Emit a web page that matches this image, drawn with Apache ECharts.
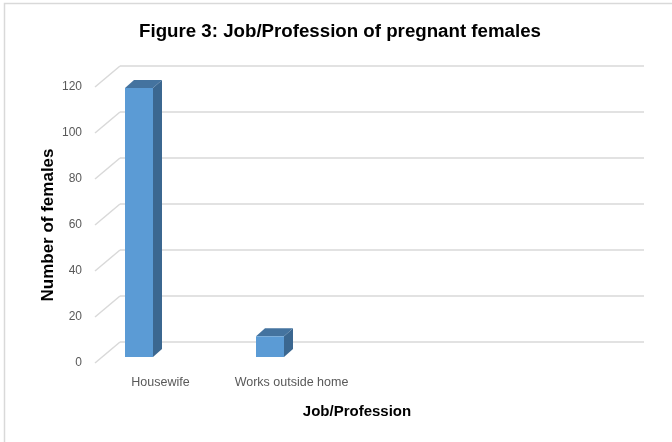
<!DOCTYPE html>
<html>
<head>
<meta charset="utf-8">
<script src="https://cdn.jsdelivr.net/npm/echarts@6/dist/echarts.min.js"></script>
<style>html,body{margin:0;padding:0;background:#fff;}#c{width:672px;height:442px;}</style>
</head>
<body>
<div id="c"></div>
<script>
const categories = ['Housewife', 'Works outside home', '', ''];
const values = [117, 9, null, null];
const tickValues = [0, 20, 40, 60, 80, 100, 120];

const DEPTH = [25, -21];   // front-to-back wall offset (px)
const BAR_DEPTH = [9, -8];  // bar 3D thickness (px)
const BAR_W = 28;

const chart = echarts.init(document.getElementById('c'));
const font = "'Liberation Sans', Arial, sans-serif";

chart.setOption({
  animation: false,
  backgroundColor: '#ffffff',
  title: {
    text: 'Figure 3: Job/Profession of pregnant females',
    left: 335, top: 17, textAlign: 'center',
    textStyle: { fontFamily: font, fontSize: 18.7, fontWeight: 'bold', color: '#000' }
  },
  graphic: [{
    type: 'rect', shape: { x: 4.5, y: 3.5, width: 700, height: 470 },
    style: { fill: 'none', stroke: '#d9d9d9', lineWidth: 1.5 }, silent: true
  }],
  grid: [
    { left: 120, right: 28, top: 66, bottom: 100 },   // back wall
    { left: 95, right: 53, top: 87, bottom: 79 },     // front plane
    { left: 73.5, right: 74.5, top: 81, bottom: 85 }  // bar plane
  ],
  xAxis: [
    { gridIndex: 0, type: 'category', data: categories, show: false },
    { gridIndex: 1, type: 'category', data: categories,
      axisLine: { show: false }, axisTick: { show: false },
      axisLabel: { margin: 13, fontFamily: font, fontSize: 12.5, color: '#595959', interval: 0 },
      name: 'Job/Profession', nameLocation: 'middle', nameGap: 41,
      nameTextStyle: { fontFamily: font, fontSize: 15, fontWeight: 'bold', color: '#000' } },
    { gridIndex: 2, type: 'category', data: categories, show: false }
  ],
  yAxis: [
    { gridIndex: 0, type: 'value', min: 0, max: 120, interval: 20,
      axisLabel: { show: false }, axisLine: { show: false }, axisTick: { show: false },
      splitLine: { lineStyle: { color: '#d9d9d9', width: 1.5 } } },
    { gridIndex: 1, type: 'value', min: 0, max: 120, interval: 20,
      axisLine: { show: false }, axisTick: { show: false }, splitLine: { show: false },
      axisLabel: { margin: 13, fontFamily: font, fontSize: 12, color: '#595959' },
      name: 'Number of females', nameLocation: 'middle', nameGap: 38, nameMoveOverlap: false,
      nameTextStyle: { fontFamily: font, fontSize: 17, fontWeight: 'bold', color: '#000' } },
    { gridIndex: 2, type: 'value', min: 0, max: 120, show: false, splitLine: { show: false } }
  ],
  series: [
    {
      type: 'custom', xAxisIndex: 0, yAxisIndex: 0, silent: true,
      data: tickValues.map(v => [0, v]),
      renderItem: function (params, api) {
        const p = api.coord([0, api.value(1)]);
        const half = api.size([1, 0])[0] / 2;
        const bx = p[0] - half, by = p[1];
        return {
          type: 'line',
          shape: { x1: bx - DEPTH[0], y1: by - DEPTH[1], x2: bx, y2: by },
          style: { stroke: '#d9d9d9', lineWidth: 1.5 }
        };
      }
    },
    {
      type: 'custom', xAxisIndex: 2, yAxisIndex: 2, silent: true,
      data: values.map((v, i) => [i, v]),
      renderItem: function (params, api) {
        const v = api.value(1);
        if (v == null || isNaN(v)) return;
        const top = api.coord([api.value(0), v]);
        const base = api.coord([api.value(0), 0]);
        const x0 = top[0] - BAR_W / 2, x1 = top[0] + BAR_W / 2;
        const y0 = top[1], y1 = base[1];
        const dx = BAR_DEPTH[0], dy = BAR_DEPTH[1];
        return {
          type: 'group',
          children: [
            { type: 'polygon', shape: { points: [[x1, y0], [x1 + dx, y0 + dy], [x1 + dx, y1 + dy], [x1, y1]] },
              style: { fill: '#3b6790' } },
            { type: 'polygon', shape: { points: [[x0, y0], [x0 + dx, y0 + dy], [x1 + dx, y0 + dy], [x1, y0]] },
              style: { fill: '#44739f' } },
            { type: 'rect', shape: { x: x0, y: y0, width: BAR_W, height: y1 - y0 },
              style: { fill: '#5b9bd5' } }
          ]
        };
      }
    }
  ]
});
</script>
</body>
</html>
